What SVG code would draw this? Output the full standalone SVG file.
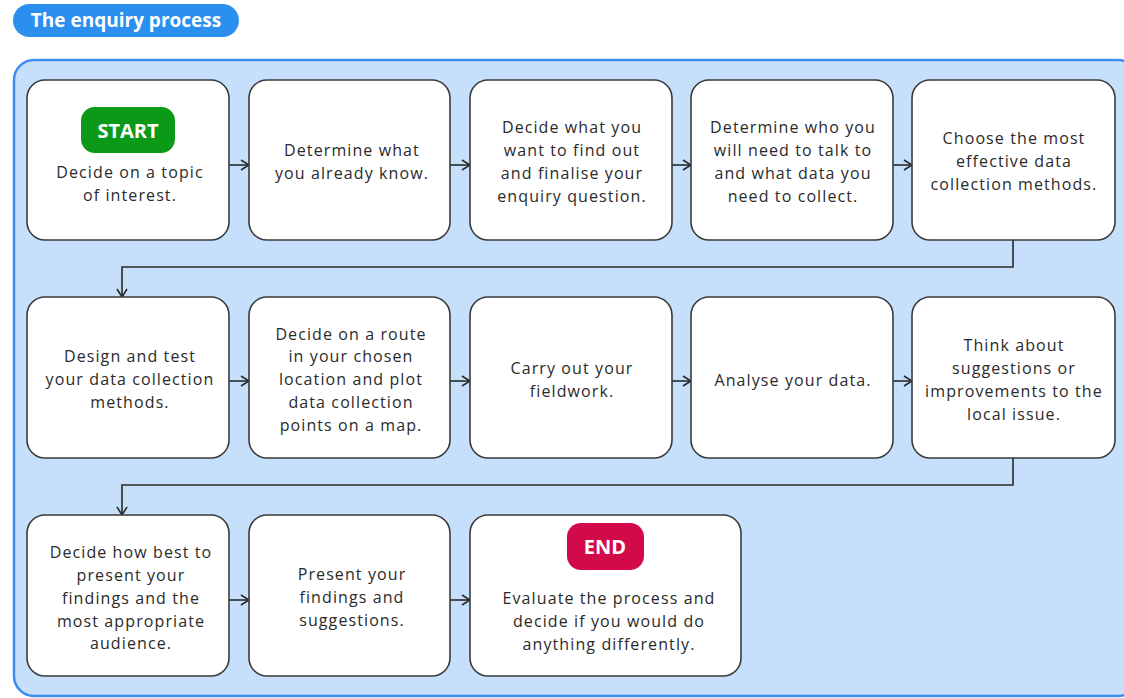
<svg xmlns="http://www.w3.org/2000/svg" width="1124" height="698" viewBox="0 0 1124 698">
<defs>
<style>
.box{fill:#fff;stroke:#3a3a3a;stroke-width:1.6}
.t{font-family:"Open Sans","Liberation Sans",sans-serif;font-size:16px;fill:#2a2a2a;text-anchor:middle;letter-spacing:1.1px}
.c{fill:none;stroke:#2a2a2a;stroke-width:1.6}
.pill{font-family:"Open Sans","Liberation Sans",sans-serif;font-weight:bold;fill:#fff;text-anchor:middle}
</style>
<marker id="ah" viewBox="0 0 12 12" refX="11" refY="6" markerWidth="12" markerHeight="12" markerUnits="userSpaceOnUse" orient="auto">
<path d="M3,1 L11,6 L3,11" fill="none" stroke="#2a2a2a" stroke-width="1.6"/>
</marker>
</defs>
<rect width="1124" height="698" fill="#fff"/>
<g id="title">
<rect x="13" y="4" width="226" height="33" rx="16.5" fill="#2b8ff0"/>
<text class="pill" x="126" y="27" font-size="19">The enquiry process</text>
</g>
<g id="container">
<rect x="14" y="60" width="1124" height="636" rx="20" fill="#c6e0fb" stroke="#3b8ef0" stroke-width="2.5"/>
</g>
<g id="connectors">
<line class="c" x1="229" y1="165" x2="249" y2="165" marker-end="url(#ah)"/>
<line class="c" x1="450" y1="165" x2="470" y2="165" marker-end="url(#ah)"/>
<line class="c" x1="672" y1="165" x2="691" y2="165" marker-end="url(#ah)"/>
<line class="c" x1="893" y1="165" x2="912" y2="165" marker-end="url(#ah)"/>
<polyline class="c" points="1013,240 1013,267 122,267 122,297" marker-end="url(#ah)"/>
<line class="c" x1="229" y1="381" x2="249" y2="381" marker-end="url(#ah)"/>
<line class="c" x1="450" y1="381" x2="470" y2="381" marker-end="url(#ah)"/>
<line class="c" x1="672" y1="381" x2="691" y2="381" marker-end="url(#ah)"/>
<line class="c" x1="893" y1="381" x2="912" y2="381" marker-end="url(#ah)"/>
<polyline class="c" points="1013,458 1013,485 122,485 122,515" marker-end="url(#ah)"/>
<line class="c" x1="229" y1="600" x2="249" y2="600" marker-end="url(#ah)"/>
<line class="c" x1="450" y1="600" x2="470" y2="600" marker-end="url(#ah)"/>
</g>
<g id="n1">
<rect class="box" x="27" y="80" width="202" height="160" rx="18"/>
<rect x="81" y="107" width="94" height="46" rx="14" fill="#0a9a17"/>
<text class="pill" x="128" y="138" font-size="20">START</text>
<text class="t" x="130" y="178">Decide on a topic</text>
<text class="t" x="130" y="201">of interest.</text>
</g>
<g id="n2">
<rect class="box" x="249" y="80" width="201" height="160" rx="18"/>
<text class="t" x="352" y="156">Determine what</text>
<text class="t" x="352" y="179">you already know.</text>
</g>
<g id="n3">
<rect class="box" x="470" y="80" width="202" height="160" rx="18"/>
<text class="t" x="572" y="133">Decide what you</text>
<text class="t" x="572" y="156">want to find out</text>
<text class="t" x="572" y="179">and finalise your</text>
<text class="t" x="572" y="202">enquiry question.</text>
</g>
<g id="n4">
<rect class="box" x="691" y="80" width="202" height="160" rx="18"/>
<text class="t" x="793" y="133">Determine who you</text>
<text class="t" x="793" y="156">will need to talk to</text>
<text class="t" x="793" y="179">and what data you</text>
<text class="t" x="793" y="202">need to collect.</text>
</g>
<g id="n5">
<rect class="box" x="912" y="80" width="203" height="160" rx="18"/>
<text class="t" x="1014" y="144">Choose the most</text>
<text class="t" x="1014" y="167">effective data</text>
<text class="t" x="1014" y="190">collection methods.</text>
</g>
<g id="n6">
<rect class="box" x="27" y="297" width="202" height="161" rx="18"/>
<text class="t" x="130" y="362">Design and test</text>
<text class="t" x="130" y="385">your data collection</text>
<text class="t" x="130" y="408">methods.</text>
</g>
<g id="n7">
<rect class="box" x="249" y="297" width="201" height="161" rx="18"/>
<text class="t" x="351" y="340">Decide on a route</text>
<text class="t" x="351" y="362">in your chosen</text>
<text class="t" x="351" y="385">location and plot</text>
<text class="t" x="351" y="408">data collection</text>
<text class="t" x="351" y="431">points on a map.</text>
</g>
<g id="n8">
<rect class="box" x="470" y="297" width="202" height="161" rx="18"/>
<text class="t" x="572" y="374">Carry out your</text>
<text class="t" x="572" y="397">fieldwork.</text>
</g>
<g id="n9">
<rect class="box" x="691" y="297" width="202" height="161" rx="18"/>
<text class="t" x="793" y="386">Analyse your data.</text>
</g>
<g id="n10">
<rect class="box" x="912" y="297" width="203" height="161" rx="18"/>
<text class="t" x="1014" y="351">Think about</text>
<text class="t" x="1014" y="374">suggestions or</text>
<text class="t" x="1014" y="397">improvements to the</text>
<text class="t" x="1014" y="420">local issue.</text>
</g>
<g id="n11">
<rect class="box" x="27" y="515" width="202" height="161" rx="18"/>
<text class="t" x="131" y="558">Decide how best to</text>
<text class="t" x="131" y="581">present your</text>
<text class="t" x="131" y="604">findings and the</text>
<text class="t" x="131" y="627">most appropriate</text>
<text class="t" x="131" y="649">audience.</text>
</g>
<g id="n12">
<rect class="box" x="249" y="515" width="201" height="161" rx="18"/>
<text class="t" x="352" y="580">Present your</text>
<text class="t" x="352" y="603">findings and</text>
<text class="t" x="352" y="626">suggestions.</text>
</g>
<g id="n13">
<rect class="box" x="470" y="515" width="271" height="161" rx="18"/>
<rect x="567" y="523" width="77" height="47" rx="14" fill="#d30a4a"/>
<text class="pill" x="605" y="554" font-size="20">END</text>
<text class="t" x="609" y="604">Evaluate the process and</text>
<text class="t" x="609" y="627">decide if you would do</text>
<text class="t" x="609" y="650">anything differently.</text>
</g>
</svg>
